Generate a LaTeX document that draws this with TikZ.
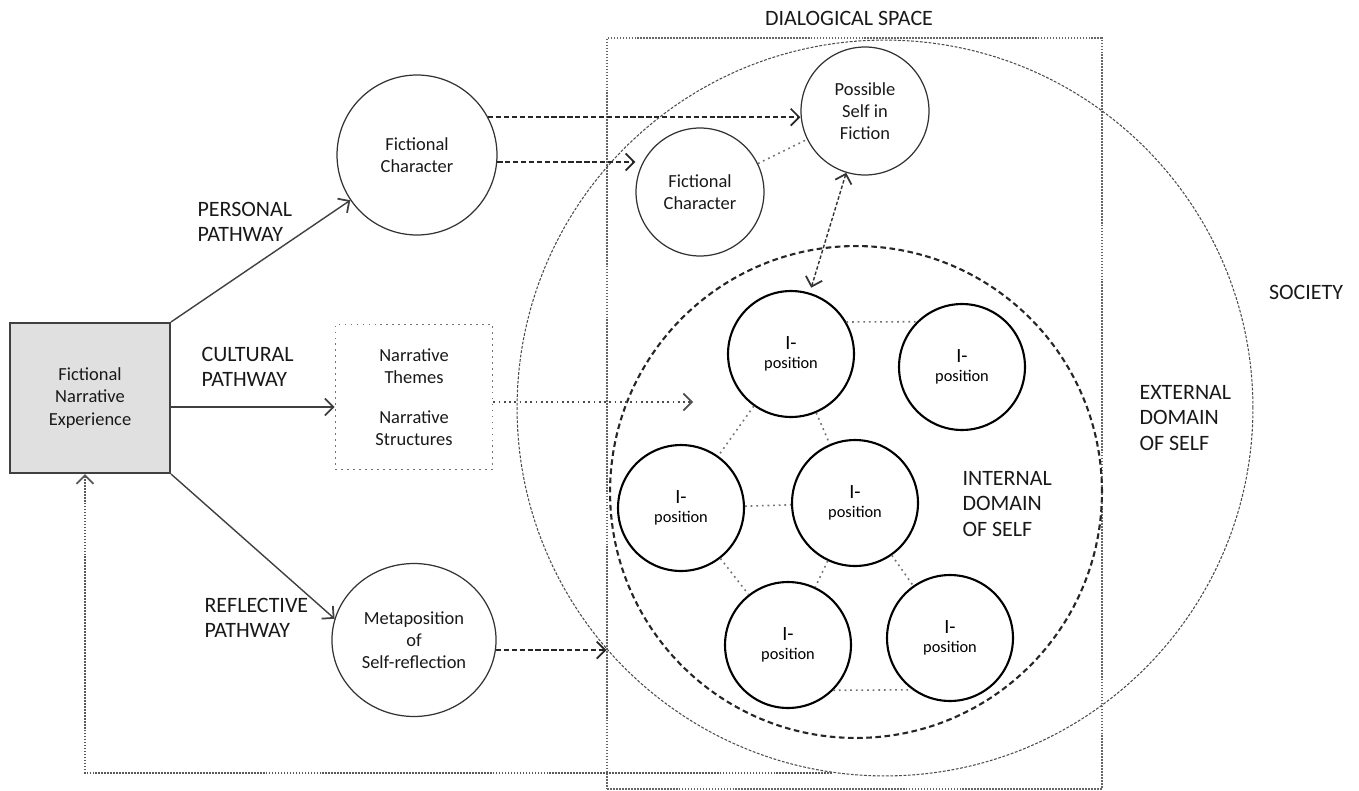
\documentclass[tikz,border=0pt]{standalone}
\usepackage{fontspec}
\setmainfont{Carlito}
\usepackage{tikz}
\usetikzlibrary{arrows.meta,shapes.geometric}

\begin{document}
\begin{tikzpicture}[x=0.02cm, y=-0.02cm, thick,
  >={Straight Barb[length=1.7mm,width=3.4mm,line width=1pt]},
  txt/.style={font=\fontsize{10.5}{12.6}\selectfont, align=center, text=black!90},
  lbl/.style={font=\fontsize{12.5}{14.6}\selectfont, align=left, text=black!90},
  circ/.style={circle, draw=black!80, line width=0.7pt, txt},
  ipos/.style={circle, draw=black, line width=1.2pt, minimum size=2.52cm, align=center},
  grybox/.style={draw=black!75, fill=black!12, line width=1.2pt, txt},
  dotbox/.style={draw=black!55, line width=1pt, dash pattern=on 1pt off 2.4pt, txt},
  dialbox/.style={draw=black!60, line width=0.7pt, dash pattern=on 1pt off 0.7pt},
  extcirc/.style={circle, draw=black!70, line width=0.6pt, dash pattern=on 1.6pt off 0.9pt},
  intcirc/.style={circle, draw=black!85, line width=1.2pt, dash pattern=on 3.2pt off 2pt},
  pathway/.style={->, draw=black!75, line width=0.8pt},
  dasharrow/.style={->, draw=black!85, line width=0.9pt, dash pattern=on 3pt off 1.5pt},
  dotarrow/.style={->, draw=black!70, line width=0.8pt, dash pattern=on 1pt off 2pt},
  ilink/.style={draw=black!55, line width=0.9pt, dash pattern=on 1pt off 2.2pt},
  feedback/.style={->, draw=black!65, line width=0.8pt, dash pattern=on 1pt off 0.7pt}]
\useasboundingbox (0,0) rectangle (1359,791);
% domains of self
\node[dialbox, minimum width=9.9cm, minimum height=15.02cm] (dial) at (854.5,413.5) {};
\node[extcirc, minimum size=14.72cm] (ext) at (885,408) {};
\node[intcirc, minimum size=9.84cm] (int) at (856,492) {};
\node[lbl] (diallbl) at (849,18) {DIALOGICAL SPACE};
\node[lbl] (soclbl) at (1306,292) {SOCIETY};
\node[lbl, anchor=west] (extlbl) at (1133,418) {EXTERNAL\\DOMAIN\\OF SELF};
\node[lbl, anchor=west] (intlbl) at (956,504) {INTERNAL\\DOMAIN\\OF SELF};
% left side
\node[grybox, minimum width=3.2cm, minimum height=3cm] (fne) at (90,398) {Fictional\\Narrative\\Experience};
\node[circ, minimum size=3.2cm] (fc) at (417,155) {Fictional\\Character};
\node[dotbox, minimum width=3.14cm, minimum height=2.9cm] (nar) at (414,397) {Narrative\\Themes\\[0.95em]Narrative\\Structures};
\node[circ, ellipse, minimum width=3.22cm, minimum height=3.06cm] (meta) at (414,640) {Metaposition\\of\\Self-reflection};
\node[lbl, anchor=west] (perslbl) at (191,222) {PERSONAL\\PATHWAY};
\node[lbl, anchor=west] (cultlbl) at (195,367) {CULTURAL\\PATHWAY};
\node[lbl, anchor=west] (refllbl) at (198,618) {REFLECTIVE\\PATHWAY};
% dialogical space
\node[circ, minimum size=2.56cm] (psf) at (865,111) {Possible\\Self in\\Fiction};
\node[circ, minimum size=2.56cm] (fci) at (700,192) {Fictional\\Character};
\newcommand{\ipostext}{{\fontsize{11.5}{12}\selectfont I-}\\[-1pt]{\fontsize{9.3}{11}\selectfont position}}
\node[ipos] (ip1) at (791,354) {\ipostext};
\node[ipos] (ip2) at (962,367) {\ipostext};
\node[ipos] (ip3) at (681,508) {\ipostext};
\node[ipos] (ip4) at (855,503) {\ipostext};
\node[ipos] (ip5) at (788,645) {\ipostext};
\node[ipos] (ip6) at (950,638) {\ipostext};
\coordinate (ntip) at (693,403);
\coordinate (fb) at (832,773);
% pathways
\draw[pathway] (fne.north east) -- (fc);
\draw[pathway] ([yshift=-0.18cm]fne.east) -- ([yshift=-0.18cm]fne.east -| nar.west);
\draw[pathway] (fne.south east) -- (meta.165);
\draw[dasharrow] (fc.28) -- (fc.28 -| psf.west);
\draw[dasharrow] (fc.-5) -- (fc.-5 -| fci.west);
\draw[dotarrow] ([yshift=-0.1cm]nar.east) -- ([yshift=-0.1cm]nar.east -| ntip);
\draw[dasharrow] (meta.-7) -- (meta.-7 -| dial.west);
\draw[feedback] (fb) -| ([xshift=-0.1cm]fne.south);
\draw[<->, draw=black!80, line width=0.8pt, dash pattern=on 2pt off 1.2pt, shorten >=3pt] (psf) -- (ip1);
% links between positions
\path[ilink]
(fci) edge (psf)
(ip1.30) edge (ip2.135)
(ip1) edge (ip3)
(ip1) edge (ip4)
(ip3) edge (ip4)
(ip3) edge (ip5)
(ip4) edge (ip5)
(ip4) edge (ip6)
(ip5.-45) edge (ip6.-126);
\end{tikzpicture}
\end{document}
